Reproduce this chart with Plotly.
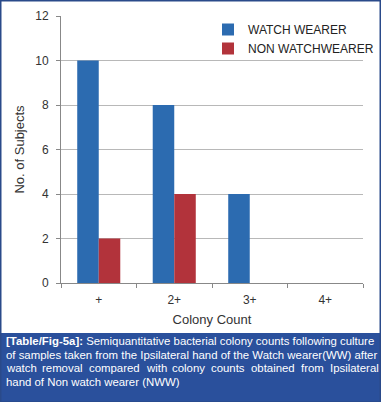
import plotly.graph_objects as go

categories = ["+", "2+", "3+", "4+"]
watch_wearer = [10, 8, 4, 0]
non_watch_wearer = [2, 4, 0, 0]
y_ticks = [0, 2, 4, 6, 8, 10, 12]
caption_lines = [
    "<b>[Table/Fig-5a]:</b> Semiquantitative bacterial colony counts following culture",
    "of samples taken from the Ipsilateral hand of the Watch wearer(WW) after",
    "watch removal compared with colony counts obtained from Ipsilateral",
    "hand of Non watch wearer (NWW)",
]

W, H = 381, 402
ML, MR, MT, MB = 61, 18, 16, 119
PW, PH = W - ML - MR, H - MT - MB

def px(x):
    return (x - ML) / PW

def py(y):
    return 1 - (y - MT) / PH

fig = go.Figure()
fig.add_trace(go.Bar(name="WATCH WEARER", x=categories, y=watch_wearer,
                     marker=dict(color="#2c6bb0", line=dict(width=0))))
fig.add_trace(go.Bar(name="NON WATCHWEARER", x=categories, y=non_watch_wearer,
                     marker=dict(color="#b2333b", line=dict(width=0))))

font_family = "Liberation Sans, Arial, sans-serif"

shapes = [
    dict(type="rect", xref="paper", yref="paper", x0=px(0), x1=px(W), y0=py(333), y1=py(H),
         fillcolor="#2a509c", line=dict(width=0), layer="below"),
    dict(type="rect", xref="paper", yref="paper", x0=px(0.75), x1=px(W - 0.75), y0=py(0.75), y1=py(H),
         fillcolor="rgba(0,0,0,0)", line=dict(width=1.5, color="#2a4a8a")),
]

cap_font = dict(family=font_family, size=11.4, color="white")
annotations = []
# justified line: word left edges spread across the caption width
word_x = {2: [5, 41, 88, 144.7, 171.3, 210.4, 250.3, 300.2, 329.2]}
for i, line in enumerate(caption_lines):
    yy = py(341 + i * 13.7)
    if i in word_x:
        for w, xw in zip(line.split(" "), word_x[i]):
            annotations.append(dict(text=w, xref="paper", yref="paper", x=px(xw), y=yy,
                                    xanchor="left", yanchor="middle", showarrow=False,
                                    font=cap_font, xshift=-1))
    else:
        annotations.append(dict(text=line, xref="paper", yref="paper", x=px(5), y=yy,
                                xanchor="left", yanchor="middle", showarrow=False,
                                font=cap_font, xshift=-1))

fig.update_layout(
    width=W, height=H,
    margin=dict(l=ML, r=MR, t=MT, b=MB, autoexpand=False),
    paper_bgcolor="white", plot_bgcolor="white",
    barmode="group", bargap=0.43, bargroupgap=0,
    font=dict(family=font_family, size=12, color="#333333"),
    xaxis=dict(showgrid=False, showline=True, linecolor="#888888", linewidth=1,
               ticks="outside", tickson="boundaries", ticklen=4, tickcolor="#888888",
               tickfont=dict(size=12, color="#333333"), ticklabelstandoff=6,
               title=dict(text="Colony Count", font=dict(size=13, color="#333333"), standoff=8)),
    yaxis=dict(range=[0, 12], tickvals=y_ticks, showgrid=True, gridcolor="#b8b8b8", gridwidth=1,
               showline=True, linecolor="#888888", linewidth=1, zeroline=False,
               ticks="outside", ticklen=4, tickcolor="#888888",
               tickfont=dict(size=12, color="#333333"), ticklabelstandoff=5,
               title=dict(text="No. of Subjects", font=dict(size=13, color="#333333"), standoff=7)),
    legend=dict(x=px(208), y=py(15), xanchor="left", yanchor="top",
                font=dict(size=12, color="#222222"), bgcolor="rgba(0,0,0,0)",
                itemwidth=30, tracegroupgap=2),
    shapes=shapes, annotations=annotations, showlegend=True,
)

fig.write_html("out.html", config={"displayModeBar": False},
               post_script="document.body.style.margin='0';document.body.style.padding='0';")
